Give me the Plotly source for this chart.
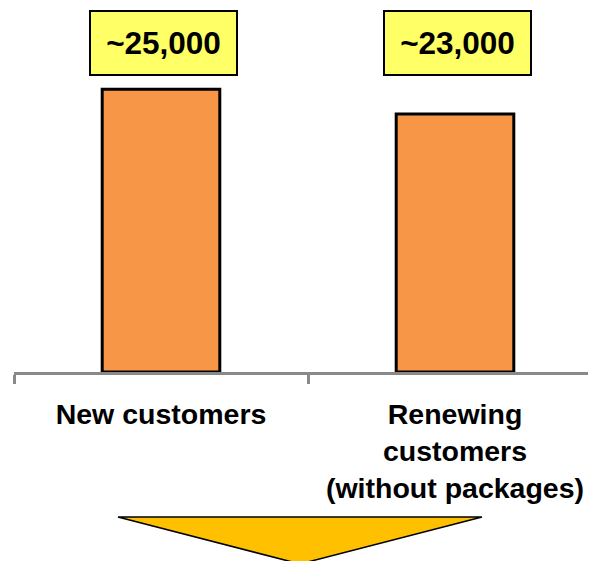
import plotly.graph_objects as go

categories = ["New customers", "Renewing<br>customers<br>(without packages)"]
values = [25000, 22800]
value_labels = ["~25,000", "~23,000"]

W, H = 596, 561
OFF = 8  # browser body margin
ml, mr, mt, mb = 14 - OFF, 0, 10 - OFF, 561 - (372 - OFF)
plot_w = W - ml - mr
plot_h = H - mt - mb
unit_px = 294.0
x_hi = -0.5 + plot_w / unit_px

fig = go.Figure()
fig.add_trace(go.Bar(
    x=categories, y=values, width=0.4,
    marker=dict(color="#F79646", line=dict(color="#000000", width=3)),
    hoverinfo="skip",
))

for i, lab in enumerate(value_labels):
    fig.add_annotation(
        x=i, xref="x", y=1, yref="paper", yanchor="top", xshift=2,
        text=lab, showarrow=False,
        font=dict(family="Arial, Liberation Sans", size=31.5, color="#000000", weight="bold"),
        bgcolor="#FFFF66", bordercolor="#000000", borderwidth=2, borderpad=0,
        width=145, height=62,
    )

# decorative downward triangle below the chart (target-image pixel coords)
def px_to_paper(px, py):
    return (px - OFF - ml) / plot_w, (H - mb - (py - OFF)) / plot_h

p1 = px_to_paper(118, 517)
p2 = px_to_paper(482, 517)
p3 = px_to_paper(300, 564)
fig.add_shape(
    type="path", xref="paper", yref="paper",
    path=f"M {p1[0]} {p1[1]} L {p2[0]} {p2[1]} L {p3[0]} {p3[1]} Z",
    fillcolor="#FFC000", line=dict(color="#000000", width=1.5),
)

fig.update_layout(
    width=W, height=H,
    margin=dict(l=ml, r=mr, t=mt, b=mb),
    paper_bgcolor="white", plot_bgcolor="white",
    showlegend=False,
    xaxis=dict(
        type="category",
        range=[-0.5, x_hi], tickson="boundaries",
        showline=True, linecolor="#898989", linewidth=3,
        ticks="outside", ticklen=9, tickwidth=3, tickcolor="#898989",
        showgrid=False, zeroline=False,
        tickfont=dict(family="Arial, Liberation Sans", size=28.5, color="#000000", weight="bold"),
        ticklabelstandoff=15,
    ),
    yaxis=dict(range=[0, 32000], visible=False, showgrid=False, zeroline=False),
)

fig.write_html("out.html")
